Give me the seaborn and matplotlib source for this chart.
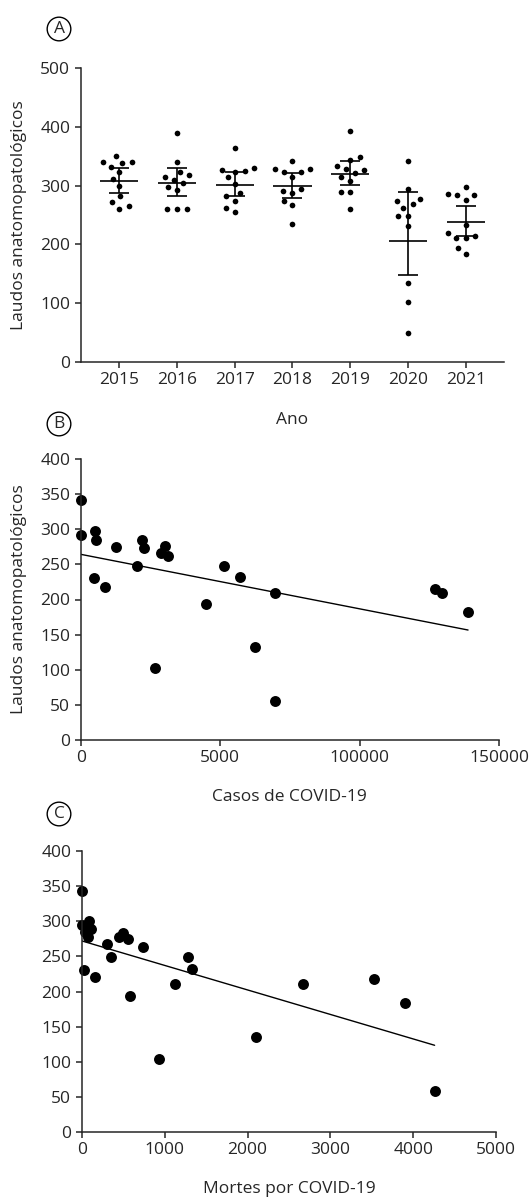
import numpy as np
import pandas as pd
import matplotlib
matplotlib.use("Agg")
import matplotlib.pyplot as plt
import seaborn as sns

# ---- Painel A: laudos mensais por ano ----
anos = ["2015", "2016", "2017", "2018", "2019", "2020", "2021"]
laudos_2015 = [340, 350, 332, 338, 340, 323, 311, 299, 282, 272, 265, 261]
laudos_2016 = [389, 340, 318, 323, 314, 305, 310, 298, 293, 260, 261, 260]
laudos_2017 = [365, 324, 327, 330, 325, 314, 303, 287, 282, 274, 262, 255]
laudos_2018 = [342, 323, 329, 329, 323, 315, 294, 291, 287, 274, 267, 235]
laudos_2019 = [394, 344, 348, 334, 326, 328, 322, 314, 308, 289, 289, 261]
laudos_2020 = [342, 294, 274, 278, 262, 268, 248, 248, 231, 134, 102, 49]
laudos_2021 = [298, 284, 286, 284, 276, 233, 210, 219, 215, 210, 193, 184]
media_ano = [308.5, 305, 301.7, 299.5, 320.5, 206, 237.7]
ic_inf = [287.5, 282, 283, 279.6, 300.6, 148, 214.8]
ic_sup = [329.6, 330, 322.8, 321.6, 342, 290, 265.4]

# ---- Painel B: casos de COVID-19 x laudos ----
casos = [0, 0, 5140, 5380, 12670, 4900, 8720, 20300, 21870, 22590, 26770, 28920,
         30110, 31430, 51500, 45050, 57240, 62600, 69670, 69670, 126900, 129500, 138900]
laudos_casos = [341, 292, 298, 285, 275, 230, 218, 248, 284, 273, 102, 266,
                276, 262, 248, 193, 232, 133, 209, 56, 215, 209, 182]
casos_ticks = [0, 50000, 100000, 150000]
casos_ticklabels = ["0", "5000", "100000", "150000"]

# ---- Painel C: mortes por COVID-19 x laudos ----
mortes = [8, 0, 88, 108, 40, 70, 28, 161, 309, 358, 450, 502, 559, 583, 740, 928,
          1129, 1278, 1334, 2106, 2673, 3525, 3899, 4256]
laudos_mortes = [343.5, 295, 300, 289, 285, 277, 230.6, 220.2, 267.6, 249.1, 278, 282.8,
                 275.2, 194, 263.3, 104.4, 211.2, 248.6, 232.5, 135.2, 210.7, 217.8,
                 183.6, 57.9]

sns.set_style("ticks")
plt.rcParams["font.family"] = ["Open Sans", "DejaVu Sans"]
plt.rcParams["axes.linewidth"] = 1.1
plt.rcParams["xtick.major.width"] = 1.1
plt.rcParams["ytick.major.width"] = 1.1
plt.rcParams["xtick.major.size"] = 4
plt.rcParams["ytick.major.size"] = 4
plt.rcParams["xtick.labelsize"] = 12.5
plt.rcParams["ytick.labelsize"] = 12.5
plt.rcParams["axes.labelsize"] = 12.5

W, H = 532, 1197
fig = plt.figure(figsize=(W / 100, H / 100), dpi=100)


def eixo(esq, dir_, topo, base):
    return fig.add_axes([esq / W, 1 - base / H, (dir_ - esq) / W, (base - topo) / H])


def letra(x, y, txt):
    fig.text(x / W, 1 - y / H, txt, ha="center", va="center", fontsize=12.5,
             bbox=dict(boxstyle="circle,pad=0.22", fc="white", ec="black", lw=1.0))


# Painel A
axA = eixo(80.7, 504, 68.3, 361.7)
todos = [laudos_2015, laudos_2016, laudos_2017, laudos_2018, laudos_2019,
         laudos_2020, laudos_2021]
dfA = pd.DataFrame({"ano": np.repeat(anos, [len(v) for v in todos]),
                    "laudos": np.concatenate(todos)})
sns.swarmplot(data=dfA, x="ano", y="laudos", order=anos, ax=axA, color="black",
              size=5.4, edgecolor="white", linewidth=1.3, zorder=2)
pos = np.arange(len(anos))
axA.errorbar(pos, media_ano,
             yerr=[np.subtract(media_ano, ic_inf), np.subtract(ic_sup, media_ano)],
             fmt="none", ecolor="black", elinewidth=1.2, capsize=7.5, capthick=1.2,
             zorder=4)
axA.hlines(media_ano, pos - 0.33, pos + 0.33, color="black", lw=1.2, zorder=4)
axA.set_xlim(-0.665, 6.66)
axA.set_ylim(0, 500)
axA.set_yticks(range(0, 501, 100))
axA.set_xlabel("Ano")
axA.set_ylabel("Laudos anatomopatológicos")
axA.xaxis.set_label_coords(0.5, -0.199)
axA.xaxis.label.set_va("center")
axA.yaxis.set_label_coords(-0.146, 0.5)
axA.yaxis.label.set_va("center")
sns.despine(ax=axA)
letra(59, 29, "A")

# Painel B
axB = eixo(80.7, 499, 459, 740)
sns.regplot(x=casos, y=laudos_casos, ax=axB, ci=None, color="black",
            scatter_kws=dict(s=62, alpha=1, linewidths=0, clip_on=False),
            line_kws=dict(lw=1.0))
axB.set_xlim(0, 150000)
axB.set_ylim(0, 400)
axB.set_xticks(casos_ticks)
axB.set_xticklabels(casos_ticklabels)
axB.set_yticks(range(0, 401, 50))
axB.set_xlabel("Casos de COVID-19")
axB.set_ylabel("Laudos anatomopatológicos")
axB.xaxis.set_label_coords(0.5, -0.202)
axB.xaxis.label.set_va("center")
axB.yaxis.set_label_coords(-0.1475, 0.5)
axB.yaxis.label.set_va("center")
sns.despine(ax=axB)
letra(59, 424, "B")

# Painel C
axC = eixo(81.7, 496.3, 851, 1132)
sns.regplot(x=mortes, y=laudos_mortes, ax=axC, ci=None, color="black",
            scatter_kws=dict(s=62, alpha=1, linewidths=0, clip_on=False),
            line_kws=dict(lw=1.0))
axC.set_xlim(0, 5000)
axC.set_ylim(0, 400)
axC.set_xticks(range(0, 5001, 1000))
axC.set_yticks(range(0, 401, 50))
axC.set_xlabel("Mortes por COVID-19")
axC.set_ylabel("")
axC.xaxis.set_label_coords(0.5, -0.203)
axC.xaxis.label.set_va("center")
sns.despine(ax=axC)
letra(59, 814, "C")

fig.savefig("out.png", dpi=100)
